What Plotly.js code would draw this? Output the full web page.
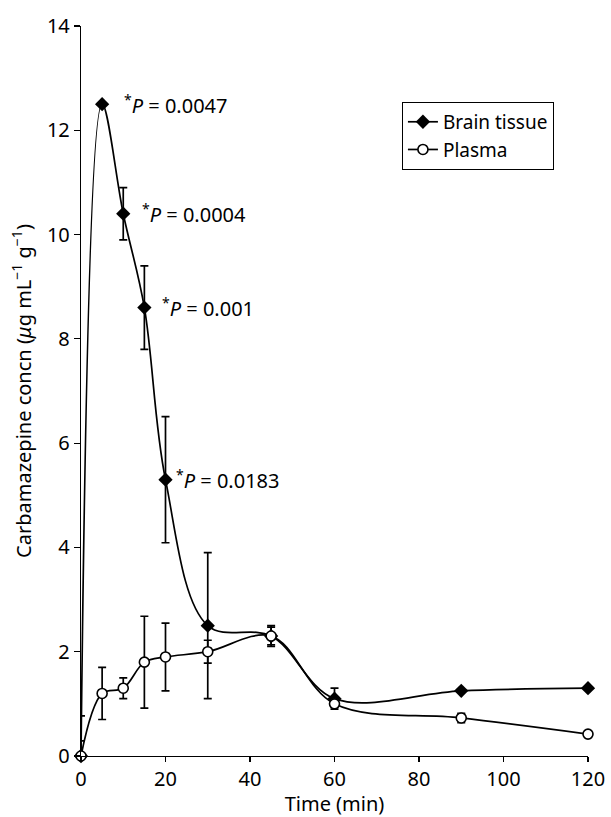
<!DOCTYPE html>
<html>
<head>
<meta charset="utf-8">
<script src="https://cdn.plot.ly/plotly-3.0.1.min.js"></script>
<style>html,body{margin:0;padding:0;background:#fff}#chart{width:611px;height:817px}</style>
</head>
<body>
<div id="chart"></div>
<script>
const timeMin = [0, 5, 10, 15, 20, 30, 45, 60, 90, 120];
const brainTissue = [0, 12.5, 10.4, 8.6, 5.3, 2.5, 2.3, 1.1, 1.25, 1.3];
const brainErrPlus = [0.77, 0, 0.5, 0.8, 1.21, 1.4, 0.2, 0.2, 0, 0];
const brainErrMinus = [0, 0, 0.5, 0.8, 1.21, 1.4, 0.2, 0, 0, 0];
const plasma = [0, 1.2, 1.3, 1.8, 1.9, 2.0, 2.3, 1.0, 0.73, 0.42];
const plasmaErrPlus = [0.29, 0.5, 0.2, 0.88, 0.65, 0.22, 0.17, 0.1, 0.09, 0];
const plasmaErrMinus = [0, 0.5, 0.2, 0.88, 0.65, 0.22, 0.17, 0.1, 0.09, 0];
const pTimes = [5, 10, 15, 20];
const pValues = [12.5, 10.4, 8.6, 5.3];
const pLabels = ['0.0047', '0.0004', '0.001', '0.0183'];
const pShift = [20, 17, 16, 8];

const FONT = '"Noto Sans", "Open Sans", sans-serif';

const traces = [
  {
    x: timeMin, y: brainTissue, name: 'Brain tissue', type: 'scatter', mode: 'lines+markers',
    line: {color: '#000', width: 1.7, shape: 'spline', smoothing: 1},
    marker: {symbol: 'diamond', size: 11, color: '#000'},
    error_y: {type: 'data', symmetric: false, array: brainErrPlus, arrayminus: brainErrMinus, color: '#000', thickness: 1.7, width: 4},
    cliponaxis: false
  },
  {
    x: timeMin, y: plasma, name: 'Plasma', type: 'scatter', mode: 'lines+markers',
    line: {color: '#000', width: 1.7, shape: 'spline', smoothing: 1},
    marker: {symbol: 'circle', size: 10, color: '#fff', line: {color: '#000', width: 1.6}},
    error_y: {type: 'data', symmetric: false, array: plasmaErrPlus, arrayminus: plasmaErrMinus, color: '#000', thickness: 1.7, width: 4},
    cliponaxis: false
  }
];

const annotations = pTimes.map((t, i) => ({
  x: t, y: pValues[i], xref: 'x', yref: 'y',
  text: '<sup>*</sup><i>P</i> = ' + pLabels[i],
  showarrow: false, xanchor: 'left', yanchor: 'middle', xshift: pShift[i],
  font: {family: FONT, size: 20, color: '#000'}
}));

const layout = {
  width: 611, height: 817,
  margin: {l: 81, r: 23, t: 26, b: 61},
  paper_bgcolor: '#fff', plot_bgcolor: '#fff',
  font: {family: FONT, size: 20, color: '#000'},
  showlegend: true,
  legend: {
    x: 0.633, y: 0.896, xanchor: 'left', yanchor: 'top',
    bordercolor: '#000', borderwidth: 1, bgcolor: '#fff',
    font: {family: FONT, size: 19, color: '#000'},
    tracegroupgap: 0, itemwidth: 30
  },
  xaxis: {
    range: [0, 120], tickvals: [0, 20, 40, 60, 80, 100, 120],
    showgrid: false, zeroline: false, showline: true, linecolor: '#000', linewidth: 1.2,
    ticks: 'outside', ticklen: 5, tickcolor: '#000', tickwidth: 1.2,
    tickfont: {family: FONT, size: 20},
    title: {text: 'Time (min)', font: {family: FONT, size: 20}, standoff: 4}
  },
  yaxis: {
    range: [0, 14], tickvals: [0, 2, 4, 6, 8, 10, 12, 14],
    showgrid: false, zeroline: false, showline: true, linecolor: '#000', linewidth: 1.2,
    ticks: 'outside', ticklen: 6, tickcolor: '#000', tickwidth: 1.2,
    tickfont: {family: FONT, size: 20},
    title: {text: 'Carbamazepine concn (<i>μ</i>g mL<sup>−1</sup> g<sup>−1</sup>)', font: {family: FONT, size: 20}, standoff: 10}
  },
  annotations: annotations
};

Plotly.newPlot('chart', traces, layout, {displayModeBar: false, staticPlot: true});
</script>
</body>
</html>
